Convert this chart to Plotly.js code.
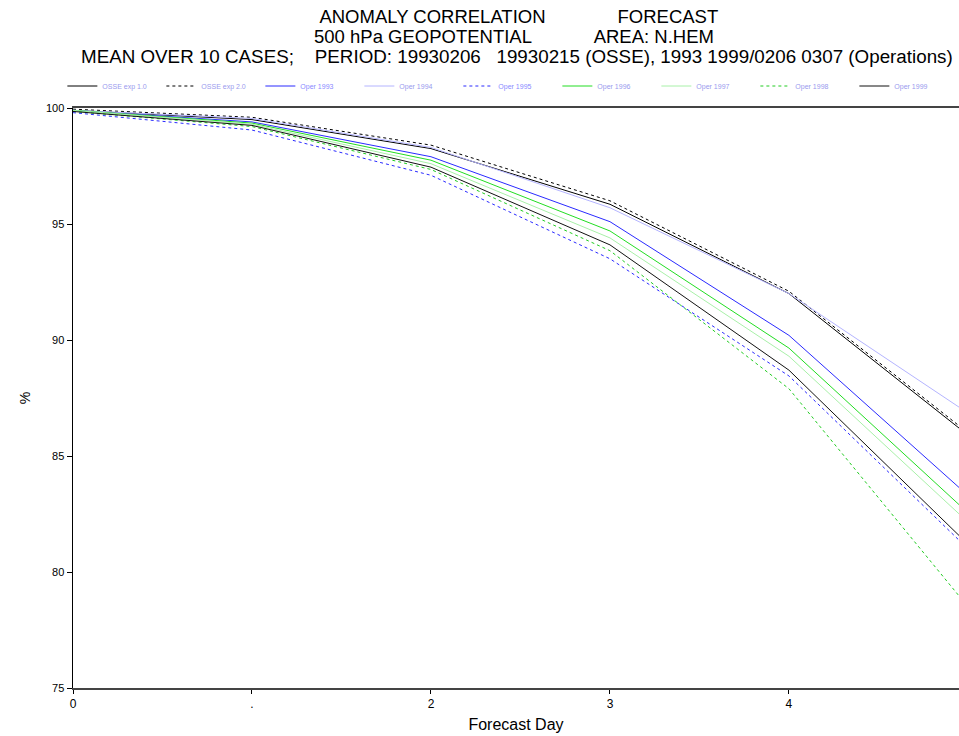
<!DOCTYPE html>
<html>
<head>
<meta charset="utf-8">
<script src="https://cdn.plot.ly/plotly-3.0.1.min.js"></script>
<style>html,body{margin:0;padding:0;background:#fff;}#chart{width:959px;height:736px;}</style>
</head>
<body>
<div id="chart"></div>
<script>
// Forecast days
const days = [0, 1, 2, 3, 4, 5];

// Series names (legend)
const names = ["OSSE exp 1.0", "OSSE exp 2.0", "Oper 1993", "Oper 1994", "Oper 1995",
               "Oper 1996", "Oper 1997", "Oper 1998", "Oper 1999"];

// Anomaly correlation (%) values per series
const s1 = [99.9, 99.5, 98.25, 95.85, 92.0, 85.9];
const s2 = [99.95, 99.6, 98.4, 96.0, 92.1, 86.0];
const s3 = [99.9, 99.4, 97.9, 95.1, 90.2, 83.3];
const s4 = [99.9, 99.55, 98.3, 95.7, 92.0, 86.85];
const s5 = [99.8, 99.05, 97.1, 93.5, 88.45, 81.0];
const s6 = [99.9, 99.35, 97.75, 94.7, 89.65, 82.55];
const s7 = [99.9, 99.3, 97.6, 94.4, 89.3, 82.15];
const s8 = [99.85, 99.2, 97.35, 93.85, 87.9, 78.5];
const s9 = [99.85, 99.25, 97.45, 94.1, 88.7, 81.2];

const seriesValues = [s1, s2, s3, s4, s5, s6, s7, s8, s9];

const colors = ["#000000", "#000000", "#2a2aff", "#b4b4ff", "#2a2aff",
                "#22dd22", "#a8f0a8", "#22cc22", "#111111"];
const dashes = ["solid", "dot", "solid", "solid", "dot", "solid", "solid", "dot", "solid"];
const labelColors = ["#9a9aee", "#9a9aee", "#8a8aff", "#9a9aee", "#8a8aff",
                     "#9a9aee", "#9a9aee", "#9a9aee", "#9a9aee"];

const xTickVals = [0, 1, 2, 3, 4, 5];
const xTickText = ["0", ".", "2", "3", "4", "5"];
const yTickVals = [75, 80, 85, 90, 95, 100];

const titleLines = [
  "ANOMALY CORRELATION" + "\u00a0".repeat(14) + "FORECAST",
  "500 hPa GEOPOTENTIAL" + "\u00a0".repeat(12) + "AREA: N.HEM",
  "MEAN OVER 10 CASES;" + "\u00a0".repeat(4) + "PERIOD: 19930206" + "\u00a0".repeat(3) +
    "19930215 (OSSE), 1993 1999/0206 0307 (Operations)"
];

const traces = seriesValues.map((vals, i) => ({
  x: days,
  y: vals,
  type: "scatter",
  mode: "lines",
  name: '<span style="color:' + labelColors[i] + '">' + names[i] + '</span>',
  line: {color: colors[i], width: 1, dash: dashes[i]}
}));

const titleFont = {family: "Liberation Sans, Arial, sans-serif", size: 18.5, color: "#000"};
const titleFont3 = {family: "Liberation Sans, Arial, sans-serif", size: 18.8, color: "#000"};

const layout = {
  width: 959,
  height: 736,
  margin: {l: 73, r: 0, t: 108, b: 48},
  paper_bgcolor: "#ffffff",
  plot_bgcolor: "#ffffff",
  font: {family: "Liberation Sans, Arial, sans-serif", color: "#000"},
  title: {
    text: titleLines[0],
    font: titleFont,
    x: 0.541, xref: "container", xanchor: "center",
    y: 1 - 17 / 736, yref: "container", yanchor: "middle"
  },
  annotations: [
    {text: titleLines[1], font: titleFont, showarrow: false,
     xref: "paper", yref: "paper", x: (514 - 73) / 886, y: 1 + (108 - 37) / 580,
     xanchor: "center", yanchor: "middle"},
    {text: titleLines[2], font: titleFont3, showarrow: false,
     xref: "paper", yref: "paper", x: (517 - 73) / 886, y: 1 + (108 - 57) / 580,
     xanchor: "center", yanchor: "middle"}
  ],
  showlegend: true,
  legend: {
    orientation: "h",
    x: -0.012, xanchor: "left",
    y: 1 + (108 - 86) / 580, yanchor: "middle",
    font: {size: 7, color: "#9a9aee"},
    entrywidth: 54,
    entrywidthmode: "pixels",
    tracegroupgap: 0,
    itemwidth: 30,
    bgcolor: "rgba(0,0,0,0)"
  },
  xaxis: {
    range: [0, 4.95],
    tickvals: xTickVals,
    ticktext: xTickText,
    ticks: "outside",
    ticklen: 4,
    tickcolor: "#000",
    showgrid: false,
    zeroline: false,
    showline: true,
    linecolor: "#444",
    linewidth: 2,
    mirror: true,
    tickfont: {size: 12},
    title: {text: "Forecast Day", font: {size: 16}, standoff: 8}
  },
  yaxis: {
    range: [75, 100],
    tickvals: yTickVals,
    ticks: "outside",
    ticklen: 5,
    tickcolor: "#000",
    showgrid: false,
    zeroline: false,
    showline: true,
    linecolor: "#000",
    linewidth: 1.5,
    tickfont: {size: 11},
    title: {text: "%", font: {size: 14}, standoff: 12}
  }
};

Plotly.newPlot("chart", traces, layout, {displayModeBar: false, staticPlot: true});
</script>
</body>
</html>
